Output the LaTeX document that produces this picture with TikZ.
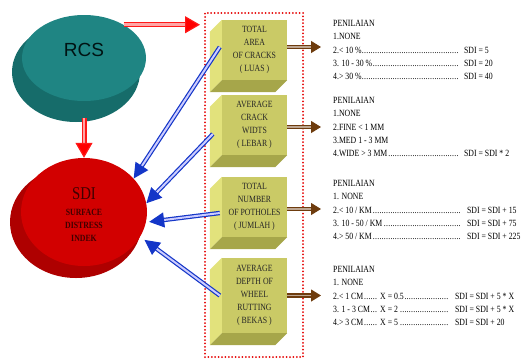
\documentclass[tikz,border=0pt]{standalone}
\usepackage{fontspec}
\setmainfont{Liberation Serif}
\newfontfamily\condfont[FakeStretch=0.82]{Liberation Serif}
\newfontfamily\rcsfont{Liberation Sans}
\usepackage{xcolor}
\usetikzlibrary{shapes.geometric, arrows.meta, positioning, calc}

\definecolor{tealtop}{HTML}{1F8583}
\definecolor{tealdark}{HTML}{166C6A}
\definecolor{sditop}{HTML}{D20000}
\definecolor{sdidark}{HTML}{AE0000}
\definecolor{boxfront}{HTML}{CACA66}
\definecolor{boxleft}{HTML}{E2E27C}
\definecolor{boxbottom}{HTML}{A6A64A}
\definecolor{arrowbrown}{HTML}{6E3C0E}
\definecolor{arrowblue}{HTML}{1436C8}

% dotted leader up to a fixed width
\newcommand{\dotsto}[2]{\makebox[#1][l]{#2\leaders\hbox to 2.2pt{\hss.\hss}\hfill\hspace{3pt}}}
% side faces of a block
\newcommand{\bevel}[1]{%
  \fill[boxleft] (#1.north west) -- ++(-12,12) -- ($(#1.south west)+(-12,12)$) -- (#1.south west) -- cycle;
  \fill[boxbottom] (#1.south west) -- ++(-12,12) -- ($(#1.south east)+(-12,12)$) -- (#1.south east) -- cycle;
}

\begin{document}
\begin{tikzpicture}[
        x=1pt, y=-1pt,
        % Global Styles
        blob/.style={ellipse, inner sep=0pt},
        rcsblob/.style={blob, fill=tealtop, minimum width=124pt, minimum height=86pt},
        sdiblob/.style={blob, fill=sditop, minimum width=126pt, minimum height=108pt},
        sdilabel/.style={align=center, font=\condfont\bfseries\fontsize{9.5}{13}\selectfont, text=red!25!black},
        block/.style={rectangle, fill=boxfront, minimum width=65pt, align=center, inner sep=0pt,
            font=\condfont\fontsize{9.5}{13}\selectfont, text=black!85},
        rating/.style={anchor=base west, inner sep=0pt, font=\condfont\fontsize{9.5}{13.3}\selectfont},
        dotframe/.style={draw=red!90!black, line width=2pt, dash pattern=on 0pt off 3.4pt, line cap=round,
            minimum width=98pt, minimum height=344pt},
        redarrow/.style={draw=red!90!white, double=red!35!white, double distance=2.6pt, line width=1.2pt,
            -{Triangle[length=15pt, width=17pt, fill=red]}},
        bluearrow/.style={draw=arrowblue, double=blue!20!white, double distance=2pt, line width=1.2pt,
            -{Triangle[length=15pt, width=15pt, fill=arrowblue]}},
        brownarrow/.style={draw=arrowbrown, double=arrowbrown!45!white, double distance=1.8pt, line width=1.2pt,
            -{Triangle[length=10pt, width=12pt, fill=arrowbrown]}}
    ]
    \useasboundingbox (0,0) rectangle (524,359);

    % --- Left: RCS and SDI ---
    \node (rcsbase) [blob, fill=tealdark, minimum width=128pt, minimum height=100pt] at (76,72) {};
    \node (rcs) [rcsblob] at (84,58) {};
    \node (rcstext) at ([yshift=8pt]rcs.center) {\rcsfont\fontsize{19}{19}\selectfont\color{black!85!teal}RCS};

    \node (sdibase) [blob, fill=sdidark, minimum width=132pt, minimum height=112pt] at (76,222) {};
    \node (sdi) [sdiblob] at (84,212) {};
    \node (sditext) [sdilabel] at ([yshift=-3pt]sdi.center) {{\fontsize{18}{18}\selectfont\mdseries SDI}\\[3pt] SURFACE\\DISTRESS\\INDEK};

    % --- Middle: the four blocks ---
    \node (panel) [dotframe] at (254,185) {};
    \node (b1) [block, minimum height=60pt] at (254.5,50) {TOTAL\\AREA\\OF CRACKS\\( LUAS )};
    \node (b2) [block, minimum height=60pt] at (254.5,125) {AVERAGE\\CRACK\\WIDTS\\( LEBAR )};
    \node (b3) [block, minimum height=60pt] at (254.5,207) {TOTAL\\NUMBER\\OF POTHOLES\\( JUMLAH )};
    \node (b4) [block, minimum height=75pt] at (254.5,295.5) {AVERAGE\\DEPTH OF\\WHEEL\\RUTTING\\( BEKAS )};
    \bevel{b1}
    \bevel{b2}
    \bevel{b3}
    \bevel{b4}

    % --- Right: rating tables ---
    \node (t1) [rating] at (333,26.5) {\begin{tabular}[t]{@{}l@{}}
        PENILAIAN\\
        1.NONE\\
        \dotsto{129pt}{2.< 10 \%} SDI = 5\\
        \dotsto{129pt}{3. 10 - 30 \%} SDI = 20\\
        \dotsto{129pt}{4.> 30 \%} SDI = 40
      \end{tabular}};
    \node (t2) [rating] at (333,103.5) {\begin{tabular}[t]{@{}l@{}}
        PENILAIAN\\
        1.NONE\\
        2.FINE < 1 MM\\
        3.MED 1 - 3 MM\\
        \dotsto{129pt}{4.WIDE > 3 MM} SDI = SDI * 2
      \end{tabular}};
    \node (t3) [rating] at (333,186.5) {\begin{tabular}[t]{@{}l@{}}
        PENILAIAN\\
        1. NONE\\
        \dotsto{132pt}{2.< 10 / KM} SDI = SDI + 15\\
        \dotsto{132pt}{3. 10 - 50 / KM} SDI = SDI + 75\\
        \dotsto{132pt}{4.> 50 / KM} SDI = SDI + 225
      \end{tabular}};
    \node (t4) [rating] at (333,272.5) {\begin{tabular}[t]{@{}l@{}}
        PENILAIAN\\
        1. NONE\\
        \dotsto{47pt}{2.< 1 CM}\dotsto{73pt}{X = 0.5} SDI = SDI + 5 * X\\
        \dotsto{47pt}{3. 1 - 3 CM}\dotsto{73pt}{X = 2} SDI = SDI + 5 * X\\
        \dotsto{47pt}{4.> 3 CM}\dotsto{73pt}{X = 5} SDI = SDI + 20
      \end{tabular}};

    % --- CONNECTIONS ---
    \draw [redarrow, shorten >=4pt] (rcs.40) -- (rcs.40 -| panel.west);
    \draw [redarrow] ($(rcs.south |- rcsbase.south)+(0,-4)$) -- (rcs.south |- sdi.north);

    \draw [bluearrow] ([shift={(-2,-3)}]b1.west) -- (sdi.34);
    \draw [bluearrow] ([shift={(-9,9)}]b2.west) -- (sdi.8);
    \draw [bluearrow] ([shift={(-2,6)}]b3.west) -- ([xshift=3pt]sdi.-9);
    \draw [bluearrow] ([shift={(-2,0)}]b4.west) -- ([shift={(5,2)}]sdi.-25);

    \draw [brownarrow, shorten >=12pt] ([yshift=3pt]b1.east) -- ([yshift=3pt]b1.east -| t1.west);
    \draw [brownarrow, shorten >=12pt] ([yshift=-2pt]b2.east) -- ([yshift=-2pt]b2.east -| t2.west);
    \draw [brownarrow, shorten >=12pt] ([yshift=-2pt]b3.east) -- ([yshift=-2pt]b3.east -| t3.west);
    \draw [brownarrow, shorten >=12pt] (b4.east) -- (b4.east -| t4.west);

\end{tikzpicture}
\end{document}
